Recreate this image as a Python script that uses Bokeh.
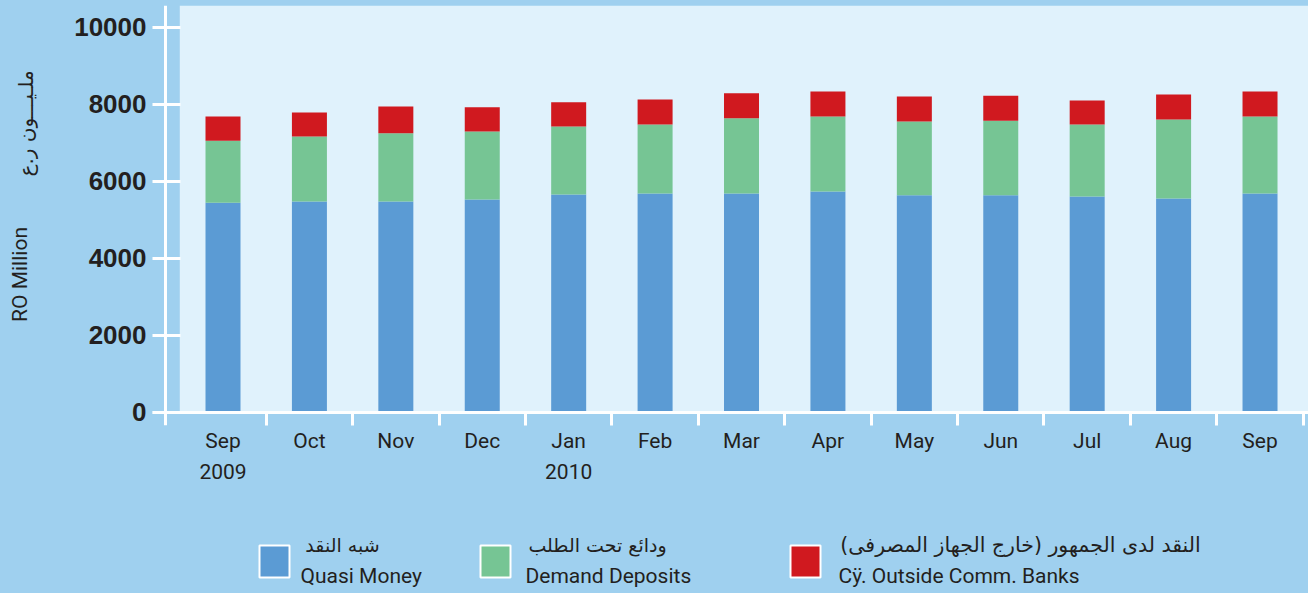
from math import pi
from bokeh.plotting import figure
from bokeh.layouts import column, row
from bokeh.models import (ColumnDataSource, FixedTicker, LinearAxis, Span, BoxAnnotation,
                          Label, Range1d, GlobalInlineStyleSheet)
from bokeh.embed import file_html
from bokeh.resources import INLINE

# ---------------- data ----------------
months = ["Sep", "Oct", "Nov", "Dec", "Jan", "Feb", "Mar", "Apr", "May", "Jun", "Jul", "Aug", "Sep"]
years = ["2009", "", "", "", "2010", "", "", "", "", "", "", "", ""]
quasi_money = [5450, 5480, 5480, 5530, 5660, 5690, 5690, 5740, 5640, 5640, 5610, 5560, 5690]
demand_deposits = [1610, 1690, 1770, 1770, 1770, 1790, 1950, 1950, 1920, 1940, 1870, 2050, 2000]
currency_outside = [625, 625, 700, 625, 625, 650, 650, 650, 650, 650, 625, 650, 650]
y_ticks = [0, 2000, 4000, 6000, 8000, 10000]

series_en = ["Quasi Money", "Demand Deposits", "Cÿ. Outside Comm. Banks"]
series_ar = ["شبه النقد", "ودائع تحت الطلب", "النقد لدى الجمهور (خارج الجهاز المصرفى)\u200f"]
y_title_en = "RO Million"
y_title_ar = "ملـيـــون ر.ع"

# ---------------- style ----------------
OUTER = "#9fd0ef"
LIGHT = "#e0f2fc"
COLORS = ["#5b9bd4", "#76c594", "#d0191f"]
TEXT = "#231f20"
SANS = "Roboto"
ARABIC = "DejaVu Sans"

W, H = 1308, 593
LEFT_W = 40
MAIN_H = 520


def blank_fig(width, height, xr, yr):
    f = figure(width=width, height=height, output_backend="svg", toolbar_location=None,
               x_range=xr, y_range=yr, min_border=0,
               background_fill_color=OUTER, border_fill_color=OUTER, outline_line_color=None,
               x_axis_location=None, y_axis_location=None)
    f.grid.visible = False
    return f


# ---------------- main chart ----------------
x = list(range(len(months)))
source = ColumnDataSource(dict(x=x, quasi=quasi_money, demand=demand_deposits, currency=currency_outside))

p = figure(width=W - LEFT_W, height=MAIN_H, output_backend="svg", toolbar_location=None,
           x_range=Range1d(-0.8158, 12.561), y_range=Range1d(-338, 10571),
           min_border_left=152 - LEFT_W, min_border_right=0, min_border_top=5,
           min_border_bottom=MAIN_H - 425,
           background_fill_color=OUTER, border_fill_color=OUTER, outline_line_color=None,
           x_axis_location=None, y_axis_location=None)
p.grid.visible = False
p.stylesheets = [GlobalInlineStyleSheet(css="body { background-color: %s; }" % OUTER)]

p.add_layout(BoxAnnotation(left=-0.5, bottom=0, fill_color=LIGHT, fill_alpha=1.0,
                           line_color=None, level="underlay"))

p.vbar_stack(["quasi", "demand", "currency"], x="x", width=0.405, source=source,
             fill_color=COLORS, line_color=None)

p.add_layout(Span(location=0, dimension="width", line_color="white", line_width=3))
p.add_layout(Span(location=-0.6655, dimension="height", line_color="white", line_width=3))

yaxis = LinearAxis(ticker=FixedTicker(ticks=y_ticks, minor_ticks=[]),
                   axis_line_color=None, major_tick_in=28, major_tick_out=0,
                   major_tick_line_color="white", major_tick_line_width=3,
                   minor_tick_line_color=None, major_label_standoff=6,
                   major_label_text_font="Liberation Sans", major_label_text_font_style="bold",
                   major_label_text_font_size="26px", major_label_text_color=TEXT)
p.add_layout(yaxis, "left")

xaxis = LinearAxis(ticker=FixedTicker(ticks=x, minor_ticks=[i + 0.5 for i in x]),
                   major_label_overrides={i: m for i, m in enumerate(months)},
                   axis_line_color=None, major_tick_line_color=None,
                   major_tick_in=0, major_tick_out=0,
                   minor_tick_in=13, minor_tick_out=0,
                   minor_tick_line_color="white", minor_tick_line_width=3,
                   major_label_standoff=3,
                   major_label_text_font=SANS, major_label_text_font_size="21px",
                   major_label_text_color=TEXT)
p.add_layout(xaxis, "below")

yr_idx = [i for i, yv in enumerate(years) if yv]
yearaxis = LinearAxis(ticker=FixedTicker(ticks=yr_idx, minor_ticks=[]),
                      major_label_overrides={i: years[i] for i in yr_idx},
                      axis_line_color=None, major_tick_line_color=None,
                      minor_tick_line_color=None, major_tick_in=0, major_tick_out=0,
                      major_label_standoff=8,
                      major_label_text_font=SANS, major_label_text_font_size="21px",
                      major_label_text_color=TEXT)
p.add_layout(yearaxis, "below")

# ---------------- left strip: y titles ----------------
lf = blank_fig(LEFT_W, MAIN_H, Range1d(0, LEFT_W), Range1d(MAIN_H, 0))
lf.add_layout(Label(x=19, y=333, text=y_title_en, angle=pi / 2,
                    text_align="center", text_baseline="middle",
                    text_font=SANS, text_font_size="21px", text_color=TEXT))
lf.add_layout(Label(x=25, y=146, text=y_title_ar, angle=pi / 2,
                    text_align="center", text_baseline="middle",
                    text_font=ARABIC, text_font_size="20px", text_color=TEXT))

# ---------------- bottom strip: legend ----------------
bf = blank_fig(W, H - MAIN_H, Range1d(0, W), Range1d(H, MAIN_H))
sq_left = [259, 480, 790]
en_x = [300, 525, 838]
ar_x = [342, 597, 1020]
ar_size = ["19px", "19px", "20.5px"]
for i in range(3):
    bf.add_layout(BoxAnnotation(left=sq_left[i], right=sq_left[i] + 30, top=545, bottom=577,
                                fill_color=COLORS[i], fill_alpha=1.0,
                                line_color="white", line_width=2, line_alpha=1.0))
    bf.add_layout(Label(x=en_x[i], y=575, text=series_en[i],
                        text_align="left", text_baseline="middle",
                        text_font=SANS, text_font_size="21px", text_color=TEXT))
    bf.add_layout(Label(x=ar_x[i], y=544, text=series_ar[i],
                        text_align="center", text_baseline="middle",
                        text_font=ARABIC, text_font_size=ar_size[i], text_color=TEXT))

layout = column(row(lf, p), bf)
open("out.html", "w").write(file_html(layout, INLINE))
